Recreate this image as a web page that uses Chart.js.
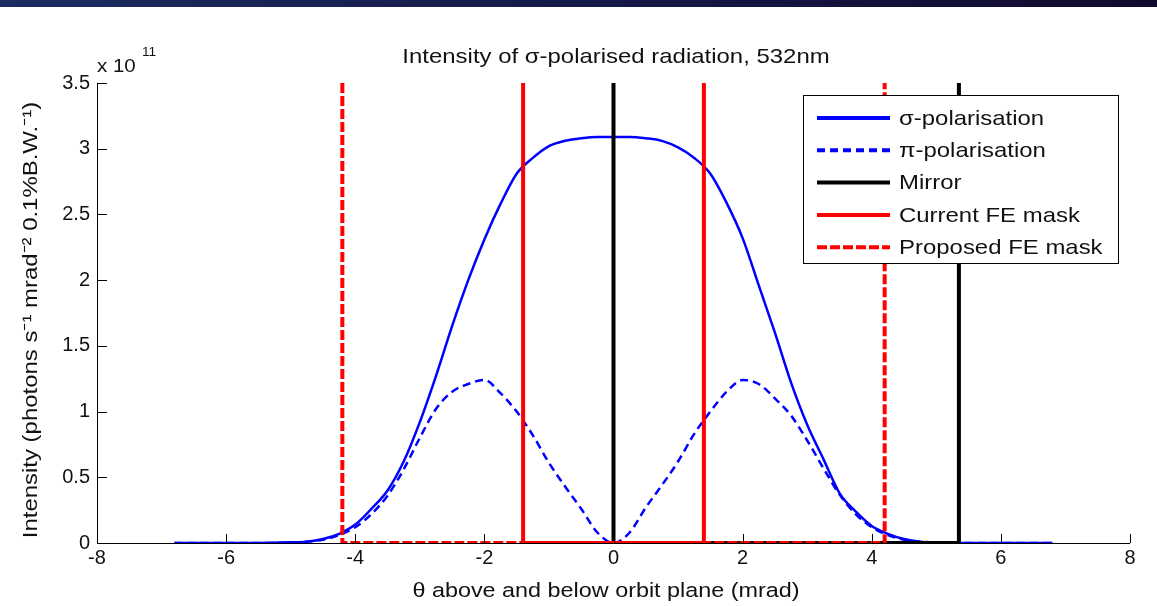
<!DOCTYPE html>
<html>
<head>
<meta charset="utf-8">
<script src="https://cdn.jsdelivr.net/npm/chart.js@4/dist/chart.umd.min.js"></script>
<style>
  html, body { margin: 0; padding: 0; background: #fff; }
  #wrap { width: 1157px; height: 606px; position: relative; }
</style>
</head>
<body>
<div id="wrap"><canvas id="chart"></canvas></div>
<script>
// theta above/below orbit plane (mrad)
const theta = [-6.8, -6.0, -5.5, -5.0, -4.75, -4.5, -4.25, -4.0, -3.75, -3.5, -3.25, -3.0, -2.75, -2.5, -2.25, -2.0,
    -1.75, -1.5, -1.25, -1.0, -0.75, -0.5, -0.25, 0, 0.25, 0.5, 0.75, 1.0, 1.25, 1.5, 1.75, 2.0, 2.25, 2.5,
    2.75, 3.0, 3.25, 3.5, 3.75, 4.0, 4.25, 4.5, 4.75, 5.0, 5.5, 6.0, 6.8];

// intensity, units of 1e11
const sigmaPol = [0, 0, 0, 0.005, 0.01, 0.03, 0.07, 0.14, 0.26, 0.40, 0.62, 0.92, 1.27, 1.65, 2.0, 2.31,
    2.58, 2.81, 2.93, 3.02, 3.06, 3.08, 3.09, 3.09, 3.09, 3.08, 3.06, 3.01, 2.93, 2.81, 2.59, 2.32, 1.96, 1.60,
    1.22, 0.90, 0.64, 0.38, 0.24, 0.13, 0.07, 0.03, 0.01, 0.004, 0, 0, 0];
const piPol = [0, 0, 0, 0.003, 0.01, 0.025, 0.06, 0.12, 0.22, 0.36, 0.56, 0.80, 1.02, 1.15, 1.21, 1.24,
    1.14, 1.0, 0.82, 0.61, 0.43, 0.26, 0.08, 0, 0.08, 0.27, 0.44, 0.62, 0.83, 1.0, 1.15, 1.24, 1.21, 1.10,
    0.97, 0.78, 0.57, 0.37, 0.22, 0.12, 0.06, 0.025, 0.01, 0.003, 0, 0, 0];

const mirrorX = [0, 0, 5.35, 5.35];
const mirrorY = [3.5, 0, 0, 3.5];
const currentMaskX = [-1.4, -1.4, 1.4, 1.4];
const currentMaskY = [3.5, 0, 0, 3.5];
const proposedMaskX = [-4.2, -4.2, 4.2, 4.2];
const proposedMaskY = [3.5, 0, 0, 3.5];

const xTicks = [-8, -6, -4, -2, 0, 2, 4, 6, 8];
const yTicks = [0, 0.5, 1, 1.5, 2, 2.5, 3, 3.5];

const labels = ['\u03c3-polarisation', '\u03c0-polarisation', 'Mirror', 'Current FE mask', 'Proposed FE mask'];
const titleText = 'Intensity of \u03c3-polarised radiation, 532nm';
const xTitle = '\u03b8 above and below orbit plane (mrad)';
const yTitle = 'Intensity (photons s\u207b\u00b9 mrad\u207b\u00b2 0.1%B.W.\u207b\u00b9)';

function pts(xs, ys) {
    return xs.map((x, i) => ({ x: x, y: ys[i] }));
}

const FONT = '"Liberation Sans", Arial, sans-serif';
const STRETCH = 1.14; // the original text is a bit wide

// text drawn a little wider than the font, centred or left aligned
function wideText(ctx, text, x, y, size, align, rot) {
    ctx.save();
    ctx.translate(x, y);
    if (rot) ctx.rotate(rot);
    ctx.scale(STRETCH, 1);
    ctx.font = size + 'px ' + FONT;
    ctx.textAlign = align;
    ctx.textBaseline = 'middle';
    ctx.fillStyle = '#111';
    ctx.fillText(text, 0, 0);
    ctx.restore();
}

// page background, top bar, titles, exponent, inward ticks and legend box
const matlabLook = {
    id: 'matlabLook',
    beforeDraw(chart) {
        const ctx = chart.ctx;
        ctx.save();
        ctx.fillStyle = '#fff';
        ctx.fillRect(0, 0, chart.width, chart.height);
        const g = ctx.createLinearGradient(0, 0, chart.width, 0);
        g.addColorStop(0, '#1d2c60');
        g.addColorStop(0.5, '#141a48');
        g.addColorStop(1, '#120a2e');
        ctx.fillStyle = g;
        ctx.fillRect(0, 0, chart.width, 7);
        ctx.restore();
    },
    afterDraw(chart) {
        const ctx = chart.ctx;
        const a = chart.chartArea;
        const xs = chart.scales.x, ys = chart.scales.y;
        ctx.save();

        // axes lines + inward ticks
        ctx.strokeStyle = '#000';
        ctx.lineWidth = 1;
        ctx.beginPath();
        ctx.moveTo(a.left + 0.5, a.top);
        ctx.lineTo(a.left + 0.5, a.bottom + 0.5);
        ctx.lineTo(a.right, a.bottom + 0.5);
        xTicks.forEach(t => {
            const px = Math.round(xs.getPixelForValue(t)) + 0.5;
            ctx.moveTo(px, a.bottom);
            ctx.lineTo(px, a.bottom - 9);
        });
        yTicks.forEach(t => {
            const py = Math.round(ys.getPixelForValue(t)) + 0.5;
            ctx.moveTo(a.left, py);
            ctx.lineTo(a.left + 10, py);
        });
        ctx.stroke();

        wideText(ctx, titleText, 616, 57, 21, 'center');
        wideText(ctx, xTitle, 606, 591, 20.5, 'center');
        wideText(ctx, yTitle, 31, 320, 21, 'center', -Math.PI / 2);

        // exponent
        wideText(ctx, 'x 10', 97, 67, 18, 'left');
        wideText(ctx, '11', 142, 53, 12, 'left');

        // legend
        const lx = 803, ly = 95, lw = 315, lh = 168;
        ctx.fillStyle = '#fff';
        ctx.fillRect(lx, ly, lw, lh);
        ctx.strokeStyle = '#000';
        ctx.lineWidth = 1;
        ctx.strokeRect(lx + 0.5, ly + 0.5, lw, lh);
        chart.data.datasets.forEach((ds, i) => {
            const y = 118 + i * 32.3;
            ctx.strokeStyle = ds.borderColor;
            ctx.lineWidth = 4;
            ctx.setLineDash(ds.borderDash || []);
            ctx.beginPath();
            ctx.moveTo(817, y);
            ctx.lineTo(890, y);
            ctx.stroke();
            ctx.setLineDash([]);
            wideText(ctx, ds.label, 899, y + 1, 21, 'left');
        });
        ctx.restore();
    }
};

const ctx = document.getElementById('chart').getContext('2d');
new Chart(ctx, {
    type: 'scatter',
    data: {
        datasets: [
            { label: labels[0], data: pts(theta, sigmaPol), borderColor: '#0000ff', borderWidth: 2.5, cubicInterpolationMode: 'monotone' },
            { label: labels[1], data: pts(theta, piPol), borderColor: '#0000ff', borderWidth: 2.5, borderDash: [8, 5], cubicInterpolationMode: 'monotone' },
            { label: labels[2], data: pts(mirrorX, mirrorY), borderColor: '#000000', borderWidth: 4 },
            { label: labels[3], data: pts(currentMaskX, currentMaskY), borderColor: '#ff0000', borderWidth: 4 },
            { label: labels[4], data: pts(proposedMaskX, proposedMaskY), borderColor: '#ff0000', borderWidth: 4, borderDash: [10, 3] }
        ].map((d, i) => Object.assign(d, {
            showLine: true,
            pointRadius: 0,
            fill: false,
            order: 10 - i
        }))
    },
    options: {
        responsive: true,
        maintainAspectRatio: false,
        animation: false,
        layout: { padding: { top: 83, right: 27, left: 0, bottom: 0 } },
        plugins: {
            legend: { display: false },
            tooltip: { enabled: false }
        },
        scales: {
            x: {
                type: 'linear',
                min: -8,
                max: 8,
                afterFit: s => { s.height = 63; },
                afterBuildTicks: s => { s.ticks = xTicks.map(v => ({ value: v })); },
                grid: { display: false, drawTicks: false },
                border: { display: false },
                ticks: { color: '#111', padding: 3, font: { family: FONT, size: 20 }, maxRotation: 0, callback: v => String(v) }
            },
            y: {
                type: 'linear',
                min: 0,
                max: 3.5,
                afterFit: s => { s.width = 97; },
                afterBuildTicks: s => { s.ticks = yTicks.map(v => ({ value: v })); },
                grid: { display: false, drawTicks: false },
                border: { display: false },
                ticks: { color: '#111', padding: 7, font: { family: FONT, size: 20 }, callback: v => String(v) }
            }
        }
    },
    plugins: [matlabLook]
});
</script>
</body>
</html>
